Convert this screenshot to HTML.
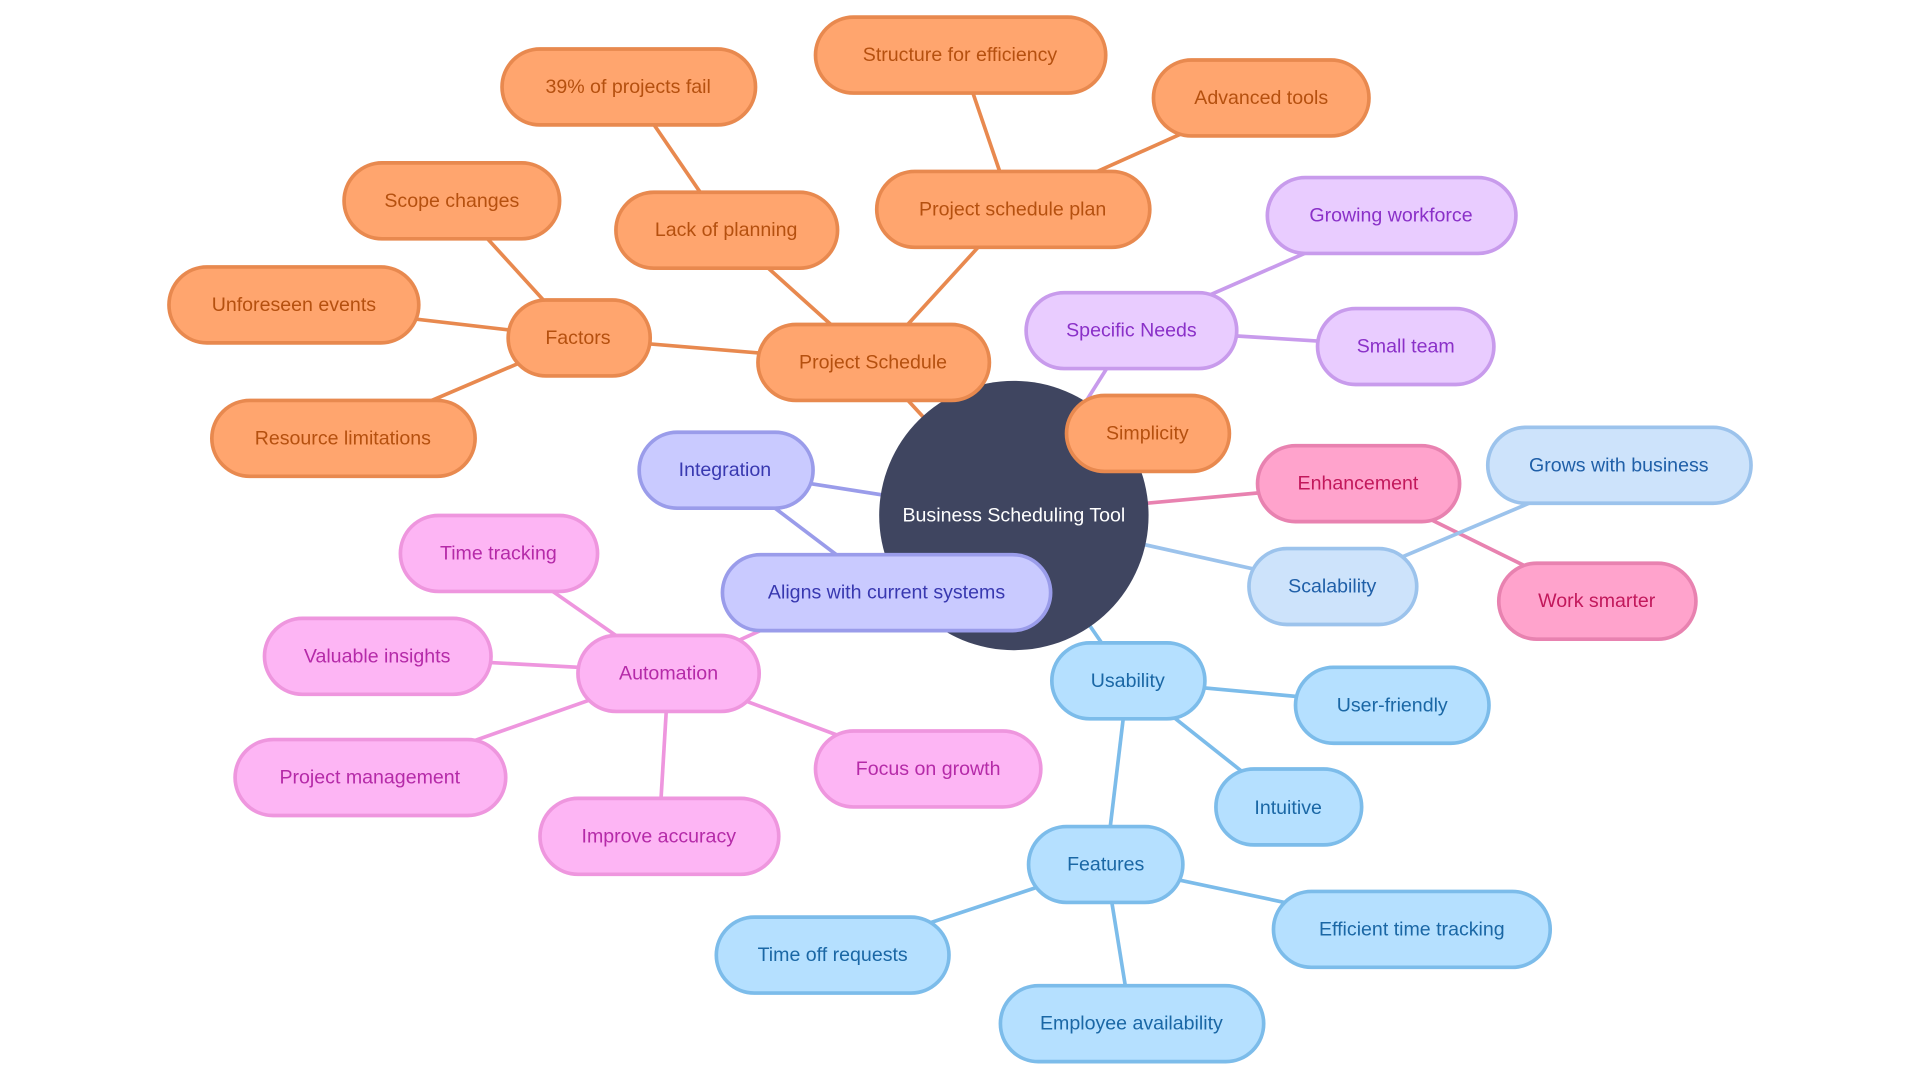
<!DOCTYPE html>
<html><head><meta charset="utf-8"><style>
html,body{margin:0;padding:0;background:#fff;width:1920px;height:1080px;overflow:hidden}
svg{display:block}
text{font-family:"Liberation Sans",sans-serif;font-size:16px;text-anchor:middle;dominant-baseline:central}
</style></head><body>
<svg width="1920" height="1080" viewBox="0 0 1568 882" xmlns="http://www.w3.org/2000/svg">
<g stroke-width="3" fill="none">
<g stroke="#E8894F">
<line x1="828" y1="421" x2="713" y2="296"/>
<line x1="713" y1="296" x2="472" y2="276"/>
<line x1="713" y1="296" x2="593" y2="188"/>
<line x1="713" y1="296" x2="827" y2="171"/>
<line x1="472" y1="276" x2="369" y2="163"/>
<line x1="472" y1="276" x2="240" y2="249"/>
<line x1="472" y1="276" x2="280" y2="358"/>
<line x1="593" y1="188" x2="513" y2="71"/>
<line x1="827" y1="171" x2="784" y2="45"/>
<line x1="827" y1="171" x2="1030" y2="80"/>
</g>
<g stroke="#C89BEC">
<line x1="828" y1="421" x2="924" y2="269"/>
<line x1="924" y1="269" x2="1136" y2="176"/>
<line x1="924" y1="269" x2="1148" y2="283"/>
</g>
<g stroke="#9A9CEA">
<line x1="828" y1="421" x2="592" y2="384"/>
<line x1="592" y1="384" x2="724" y2="484"/>
</g>
<g stroke="#EE96DE">
<line x1="828" y1="421" x2="546" y2="549"/>
<line x1="546" y1="549" x2="407" y2="452"/>
<line x1="546" y1="549" x2="308" y2="536"/>
<line x1="546" y1="549" x2="302" y2="635"/>
<line x1="546" y1="549" x2="758" y2="628"/>
<line x1="546" y1="549" x2="538" y2="683"/>
</g>
<g stroke="#E882B0">
<line x1="828" y1="421" x2="1109" y2="395"/>
<line x1="1109" y1="395" x2="1304" y2="491"/>
</g>
<g stroke="#9CC3EC">
<line x1="828" y1="421" x2="1088" y2="479"/>
<line x1="1088" y1="479" x2="1322" y2="380"/>
</g>
<g stroke="#7CBCEA">
<line x1="828" y1="421" x2="921" y2="556"/>
<line x1="921" y1="556" x2="1137" y2="576"/>
<line x1="921" y1="556" x2="1052" y2="660"/>
<line x1="921" y1="556" x2="903" y2="706"/>
<line x1="903" y1="706" x2="680" y2="780"/>
<line x1="903" y1="706" x2="924" y2="836"/>
<line x1="903" y1="706" x2="1153" y2="759"/>
</g>
</g>
<circle cx="828" cy="421" r="110" fill="#3F4560"/>
<text x="828" y="421" fill="#fff">Business Scheduling Tool</text>

<g stroke-width="3">
<!-- orange -->
<g fill="#FFA56E" stroke="#E8894F">
<rect x="666" y="14" width="237" height="62" rx="31"/>
<rect x="410" y="40" width="207" height="62" rx="31"/>
<rect x="942" y="49" width="176" height="62" rx="31"/>
<rect x="281" y="133" width="176" height="62" rx="31"/>
<rect x="503" y="157" width="181" height="62" rx="31"/>
<rect x="716" y="140" width="223" height="62" rx="31"/>
<rect x="138" y="218" width="204" height="62" rx="31"/>
<rect x="415" y="245" width="116" height="62" rx="31"/>
<rect x="619" y="265" width="189" height="62" rx="31"/>
<rect x="173" y="327" width="215" height="62" rx="31"/>
<rect x="871" y="323" width="133" height="62" rx="31"/>
</g>
<g fill="#E9CCFF" stroke="#C89BEC">
<rect x="1035" y="145" width="203" height="62" rx="31"/>
<rect x="838" y="239" width="172" height="62" rx="31"/>
<rect x="1076" y="252" width="144" height="62" rx="31"/>
</g>
<g fill="#C9CAFF" stroke="#9A9CEA">
<rect x="522" y="353" width="142" height="62" rx="31"/>
<rect x="590" y="453" width="268" height="62" rx="31"/>
</g>
<g fill="#FDB5F4" stroke="#EE96DE">
<rect x="327" y="421" width="161" height="62" rx="31"/>
<rect x="216" y="505" width="185" height="62" rx="31"/>
<rect x="472" y="519" width="148" height="62" rx="31"/>
<rect x="192" y="604" width="221" height="62" rx="31"/>
<rect x="666" y="597" width="184" height="62" rx="31"/>
<rect x="441" y="652" width="195" height="62" rx="31"/>
</g>
<g fill="#FFA3CC" stroke="#E882B0">
<rect x="1027" y="364" width="165" height="62" rx="31"/>
<rect x="1224" y="460" width="161" height="62" rx="31"/>
</g>
<g fill="#CDE3FB" stroke="#9CC3EC">
<rect x="1215" y="349" width="215" height="62" rx="31"/>
<rect x="1020" y="448" width="137" height="62" rx="31"/>
</g>
<g fill="#B5E0FF" stroke="#7CBCEA">
<rect x="859" y="525" width="125" height="62" rx="31"/>
<rect x="1058" y="545" width="158" height="62" rx="31"/>
<rect x="993" y="628" width="119" height="62" rx="31"/>
<rect x="840" y="675" width="126" height="62" rx="31"/>
<rect x="1040" y="728" width="226" height="62" rx="31"/>
<rect x="585" y="749" width="190" height="62" rx="31"/>
<rect x="817" y="805" width="215" height="62" rx="31"/>
</g>
</g>

<g fill="#B5500F">
<text x="784" y="45">Structure for efficiency</text>
<text x="513" y="71">39% of projects fail</text>
<text x="1030" y="80">Advanced tools</text>
<text x="369" y="164">Scope changes</text>
<text x="593" y="188">Lack of planning</text>
<text x="827" y="171">Project schedule plan</text>
<text x="240" y="249">Unforeseen events</text>
<text x="472" y="276">Factors</text>
<text x="713" y="296">Project Schedule</text>
<text x="280" y="358">Resource limitations</text>
<text x="937" y="354">Simplicity</text>
</g>
<g fill="#8A30C8">
<text x="1136" y="176">Growing workforce</text>
<text x="924" y="270">Specific Needs</text>
<text x="1148" y="283">Small team</text>
</g>
<g fill="#3838B0">
<text x="592" y="384">Integration</text>
<text x="724" y="484">Aligns with current systems</text>
</g>
<g fill="#B52AA8">
<text x="407" y="452">Time tracking</text>
<text x="308" y="536">Valuable insights</text>
<text x="546" y="550">Automation</text>
<text x="302" y="635">Project management</text>
<text x="758" y="628">Focus on growth</text>
<text x="538" y="683">Improve accuracy</text>
</g>
<g fill="#C2185B">
<text x="1109" y="395">Enhancement</text>
<text x="1304" y="491">Work smarter</text>
</g>
<g fill="#1F5FA8">
<text x="1322" y="380">Grows with business</text>
<text x="1088" y="479">Scalability</text>
</g>
<g fill="#1A67A5">
<text x="921" y="556">Usability</text>
<text x="1137" y="576">User-friendly</text>
<text x="1052" y="660">Intuitive</text>
<text x="903" y="706">Features</text>
<text x="1153" y="759">Efficient time tracking</text>
<text x="680" y="780">Time off requests</text>
<text x="924" y="836">Employee availability</text>
</g>
</svg>
</body></html>
